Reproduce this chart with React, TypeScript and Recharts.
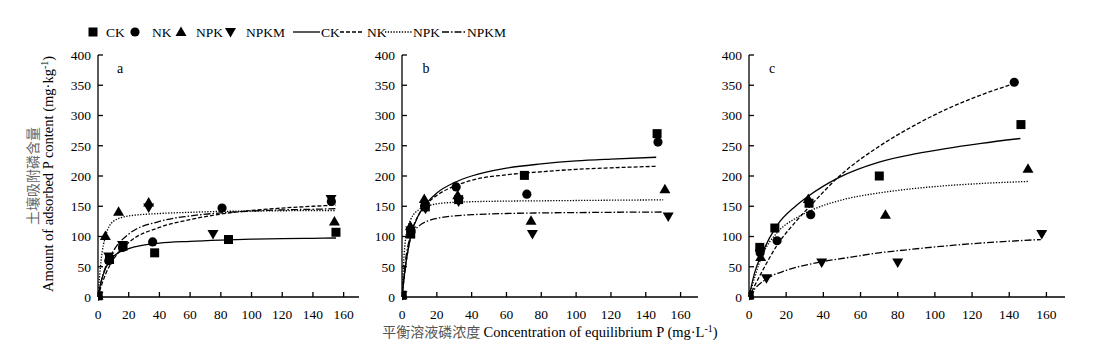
import React from 'react';
import { ComposedChart, Line, Scatter, XAxis, YAxis } from 'recharts';

type Pair = [number, number];

const xTicks = [0, 20, 40, 60, 80, 100, 120, 140, 160];
const yTicks = [0, 50, 100, 150, 200, 250, 300, 350, 400];
const treatments = ['CK', 'NK', 'NPK', 'NPKM'];

// panel a - measured points
const aCK: Pair[] = [[0, 2], [7.5, 62], [16.3, 84], [36.9, 73], [85, 95], [155, 107]];
const aNK: Pair[] = [[0, 2], [7, 60], [16, 82], [35.6, 91], [80.8, 147], [152, 158]];
const aNPK: Pair[] = [[0, 2], [4.8, 101], [13.4, 141], [33, 156], [154, 125]];
const aNPKM: Pair[] = [[0, 2], [7, 67], [16, 86], [33, 148], [74.9, 104], [151.8, 162]];

// panel a - fitted curves
const aCKFit: Pair[] = [[0, 0], [2, 25], [5, 48], [10, 67], [20, 80], [40, 89], [60, 92], [80, 94], [100, 95.5], [120, 96.5], [140, 97], [155, 97.5]];
const aNKFit: Pair[] = [[0, 0], [2, 17], [5, 38], [10, 62], [20, 90], [40, 115], [60, 128], [80, 137], [100, 143], [120, 147], [140, 150], [155, 152]];
const aNPKFit: Pair[] = [[0, 0], [2, 60], [5, 101], [10, 125], [20, 134], [40, 138], [60, 140], [80, 141.5], [100, 142], [120, 142.5], [140, 143], [155, 143]];
const aNPKMFit: Pair[] = [[0, 0], [2, 25], [5, 50], [10, 76], [20, 104], [40, 125], [60, 134], [80, 139], [100, 142], [120, 144], [140, 145], [155, 146]];

// panel b - measured points
const bCK: Pair[] = [[0, 3], [5, 104], [13.4, 149], [32.5, 161], [70.3, 201], [146.5, 270]];
const bNK: Pair[] = [[0, 3], [5.2, 108], [13, 150], [31.1, 182], [71.7, 170], [147, 256]];
const bNPK: Pair[] = [[0, 3], [4.8, 117], [12.8, 162], [32, 168], [74.1, 126], [151, 178]];
const bNPKM: Pair[] = [[0, 3], [5, 110], [13.5, 146], [32.5, 158], [74.9, 104], [152.9, 133]];

// panel b - fitted curves
const bCKFit: Pair[] = [[0, 0], [2, 50], [5, 100], [10, 138], [15, 158], [20, 172], [30, 189], [40, 200], [60, 213], [80, 220], [100, 225], [120, 228], [146, 231]];
const bNKFit: Pair[] = [[0, 0], [2, 50], [5, 100], [10, 138], [15, 156], [20, 168], [30, 183], [40, 193], [60, 202], [80, 207], [100, 211], [120, 213.5], [146, 216]];
const bNPKFit: Pair[] = [[0, 0], [1, 60], [2, 95], [5, 128], [10, 145], [15, 151], [20, 154], [30, 156.5], [40, 157.5], [60, 158.5], [80, 159], [100, 159.5], [120, 160], [150, 160.5]];
const bNPKMFit: Pair[] = [[0, 0], [2, 60], [5, 100], [10, 118], [15, 126], [20, 130], [30, 134], [40, 136], [60, 138], [80, 139], [100, 139.5], [120, 140], [150, 140.5]];

// panel c - measured points
const cCK: Pair[] = [[0, 3], [5.8, 82], [13.9, 114], [32.3, 155], [70.1, 200], [146.3, 285]];
const cNK: Pair[] = [[0, 3], [6, 73], [15.1, 93], [33.2, 136], [142.7, 355]];
const cNPK: Pair[] = [[0, 3], [6.3, 66], [31.9, 162], [73.4, 136], [150.1, 212]];
const cNPKM: Pair[] = [[0, 3], [6, 72], [9.4, 31], [39.1, 57], [80, 57], [157.5, 104]];

// panel c - fitted curves
const cCKFit: Pair[] = [[0, 0], [3, 40], [7, 72], [15, 118], [25, 150], [32, 167], [48, 197], [70, 223], [90, 237], [105, 245], [125, 254], [146, 262]];
const cNKFit: Pair[] = [[0, 0], [7, 42], [15, 85], [25, 124], [34, 154], [48, 198], [70, 249], [88, 282], [106, 310], [124, 333], [143, 353]];
const cNPKFit: Pair[] = [[0, 0], [7, 68], [15, 106], [25, 130], [34, 144], [52, 162], [70, 172], [88, 179], [106, 184], [124, 187.5], [150, 191]];
const cNPKMFit: Pair[] = [[0, 0], [3, 13], [10, 31], [20, 44], [39, 58], [55, 66], [70, 73], [88, 79], [106, 84.5], [124, 89], [157, 95]];

const pts = (p: Pair[]) => p.map(([x, y]) => ({ x, y }));

const SERIF = '"Liberation Serif", "Times New Roman", serif';
const CJK = '"Noto Sans CJK SC", sans-serif';
const dashes = [undefined, '4 2', '1.3 1.5', '7 2 1.5 2'];

const Square = ({ cx, cy }: any) => <rect x={cx - 4.5} y={cy - 4.5} width={9} height={9} fill="#000" />;
const Dot = ({ cx, cy }: any) => <circle cx={cx} cy={cy} r={4.6} fill="#000" />;
const Up = ({ cx, cy }: any) => (
  <path d={`M${cx},${cy - 5.5}L${cx + 5.5},${cy + 4}L${cx - 5.5},${cy + 4}Z`} fill="#000" />
);
const Down = ({ cx, cy }: any) => (
  <path d={`M${cx},${cy + 5.5}L${cx + 5.5},${cy - 4}L${cx - 5.5},${cy - 4}Z`} fill="#000" />
);
const shapes = [Square, Dot, Up, Down];

const tickStyle = { fill: '#000', fontSize: 13.5, fontFamily: SERIF };

interface PanelProps {
  left: number;
  width: number;
  yw: number;
  ml: number;
  mr: number;
  points: Pair[][];
  fits: Pair[][];
}

function Panel({ left, width, yw, ml, mr, points, fits }: PanelProps) {
  return (
    <div style={{ position: 'absolute', left, top: 0 }}>
      <ComposedChart width={width} height={361} margin={{ top: 55, right: mr, bottom: 34, left: ml }}>
        <XAxis
          type="number"
          dataKey="x"
          domain={[0, 170]}
          ticks={xTicks}
          interval={0}
          height={30}
          stroke="#000"
          strokeWidth={1.3}
          tickSize={-5}
          tickMargin={17}
          tick={tickStyle}
          allowDataOverflow
        />
        <YAxis
          type="number"
          dataKey="y"
          domain={[0, 400]}
          ticks={yTicks}
          interval={0}
          width={yw}
          stroke="#000"
          strokeWidth={1.3}
          tickSize={-5}
          tickMargin={12}
          tick={tickStyle}
        />
        {fits.map((f, i) => (
          <Line
            key={'fit' + treatments[i]}
            name={treatments[i]}
            data={pts(f)}
            dataKey="y"
            type="monotone"
            stroke="#000"
            strokeWidth={1.3}
            strokeDasharray={dashes[i]}
            dot={false}
            activeDot={false}
            isAnimationActive={false}
          />
        ))}
        {points.map((p, i) => (
          <Scatter
            key={'pts' + treatments[i]}
            name={treatments[i]}
            data={pts(p)}
            shape={shapes[i]}
            isAnimationActive={false}
          />
        ))}
      </ComposedChart>
    </div>
  );
}

function Legend() {
  const markers = [93, 135, 181, 230.5];
  const markerText = [106, 152, 196, 246];
  const lineSeg: Pair[] = [[293, 320], [340, 364], [385, 412], [442, 466]];
  const lineText = [321, 367, 413, 467];
  return (
    <g fontFamily={SERIF} fontSize={13.5} fill="#000">
      {treatments.map((t, i) => {
        const Shape = shapes[i];
        return (
          <g key={'m' + t}>
            <Shape cx={markers[i]} cy={32} />
            <text x={markerText[i]} y={36.5}>{t}</text>
          </g>
        );
      })}
      {treatments.map((t, i) => (
        <g key={'l' + t}>
          <line x1={lineSeg[i][0]} x2={lineSeg[i][1]} y1={32} y2={32} stroke="#000" strokeWidth={1.3} strokeDasharray={dashes[i]} />
          <text x={lineText[i]} y={36.5}>{t}</text>
        </g>
      ))}
    </g>
  );
}

export default function App() {
  return (
    <div style={{ position: 'absolute', left: 0, top: 0, width: 1107, height: 361, background: '#fff' }}>
      <Panel left={0} width={360} yw={50} ml={48} mr={1} points={[aCK, aNK, aNPK, aNPKM]} fits={[aCKFit, aNKFit, aNPKFit, aNPKMFit]} />
      <Panel left={360} width={350} yw={42} ml={0} mr={12} points={[bCK, bNK, bNPK, bNPKM]} fits={[bCKFit, bNKFit, bNPKFit, bNPKMFit]} />
      <Panel left={710} width={370} yw={39} ml={0} mr={15} points={[cCK, cNK, cNPK, cNPKM]} fits={[cCKFit, cNKFit, cNPKFit, cNPKMFit]} />
      <svg width={1107} height={361} style={{ position: 'absolute', left: 0, top: 0, pointerEvents: 'none' }}>
        <Legend />
        <g fontFamily={SERIF} fontSize={14} fill="#000">
          <text x={120} y={73} textAnchor="middle">a</text>
          <text x={426} y={73} textAnchor="middle">b</text>
          <text x={772} y={73} textAnchor="middle">c</text>
        </g>
        <text
          transform="translate(38,176) rotate(-90)"
          textAnchor="middle"
          fontFamily={CJK}
          fontSize={14}
          fill="#666"
        >
          土壤吸附磷含量
        </text>
        <text
          transform="translate(53,174) rotate(-90)"
          textAnchor="middle"
          fontFamily={SERIF}
          fontSize={14.5}
          fill="#000"
        >
          Amount of adsorbed P content (mg·kg<tspan dy={-5} fontSize={10}>-1</tspan>
          <tspan dy={5}>)</tspan>
        </text>
        <text x={550} y={337} textAnchor="middle" fontSize={14.5} fill="#000">
          <tspan fontFamily={CJK} fontSize={14} fill="#555">平衡溶液磷浓度 </tspan>
          <tspan fontFamily={SERIF}>Concentration of equilibrium P (mg·L</tspan>
          <tspan fontFamily={SERIF} dy={-5} fontSize={10}>-1</tspan>
          <tspan fontFamily={SERIF} dy={5}>)</tspan>
        </text>
      </svg>
    </div>
  );
}
